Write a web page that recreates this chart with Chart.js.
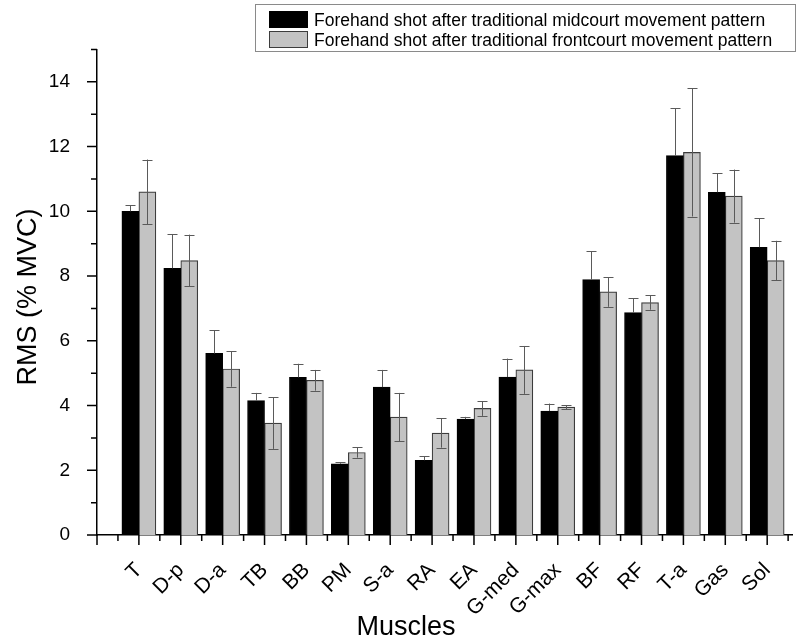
<!DOCTYPE html>
<html>
<head>
<meta charset="utf-8">
<script src="https://cdn.jsdelivr.net/npm/chart.js"></script>
<style>
  html, body { margin: 0; padding: 0; background: #fff; }
  #wrap { position: relative; width: 800px; height: 642px; }
  #legend {
    position: absolute; left: 255px; top: 4px; width: 541px; height: 48px;
    border: 1px solid #8a8a8a; box-sizing: border-box;
    font-family: "Liberation Sans", Arial, sans-serif; font-size: 17.5px; color: #000;
  }
  .item { position: absolute; left: 13px; height: 18px; line-height: 18px; white-space: nowrap; }
  .swatch { position: absolute; left: 0; top: 0; width: 39px; height: 17px; box-sizing: border-box; }
  .label { position: absolute; left: 45px; top: 0; }
</style>
</head>
<body>
<div id="wrap">
  <canvas id="chart" width="800" height="642"></canvas>
  <div id="legend"></div>
</div>
<script>
  const muscles = ["T", "D-p", "D-a", "TB", "BB", "PM", "S-a", "RA", "EA", "G-med", "G-max", "BF", "RF", "T-a", "Gas", "Sol"];
  const midcourt = [10.0, 8.24, 5.61, 4.15, 4.87, 2.2, 4.57, 2.31, 3.58, 4.88, 3.83, 7.89, 6.87, 11.72, 10.59, 8.89];
  const midcourtSD = [0.19, 1.06, 0.71, 0.24, 0.42, 0.04, 0.53, 0.13, 0.07, 0.57, 0.23, 0.88, 0.45, 1.47, 0.58, 0.89];
  const frontcourt = [10.6, 8.48, 5.13, 3.46, 4.78, 2.55, 3.64, 3.15, 3.91, 5.1, 3.95, 7.51, 7.18, 11.82, 10.47, 8.48];
  const frontcourtSD = [1.0, 0.8, 0.55, 0.8, 0.32, 0.16, 0.75, 0.45, 0.23, 0.74, 0.06, 0.46, 0.22, 1.98, 0.82, 0.61];
  const yTicks = [0, 2, 4, 6, 8, 10, 12, 14];

  const FONT = "'Liberation Sans', Arial, sans-serif";

  // outward tick marks, long on labelled values, short in between
  const tickMarks = {
    id: "tickMarks",
    afterDraw(chart) {
      const { ctx, scales: { x, y } } = chart;
      ctx.save();
      ctx.strokeStyle = "#000";
      ctx.lineWidth = 1.5;
      ctx.beginPath();
      for (let v = 0; v <= 15; v++) {
        const py = y.getPixelForValue(v);
        const len = v % 2 === 0 ? 10 : 6;
        ctx.moveTo(x.left, py);
        ctx.lineTo(x.left - len, py);
      }
      for (let v = 0; v <= 16.5; v += 0.5) {
        const px = x.getPixelForValue(v);
        const len = Number.isInteger(v) ? 10 : 6;
        ctx.moveTo(px, y.bottom);
        ctx.lineTo(px, y.bottom + len);
      }
      ctx.stroke();
      ctx.restore();
    },
  };

  const errorBars = {
    id: "errorBars",
    afterDatasetsDraw(chart) {
      const { ctx, scales: { y } } = chart;
      const sds = [midcourtSD, frontcourtSD];
      ctx.save();
      ctx.strokeStyle = "#5a5a5a";
      ctx.lineWidth = 1;
      chart.data.datasets.forEach((ds, i) => {
        chart.getDatasetMeta(i).data.forEach((bar, j) => {
          const val = ds.data[j].y;
          const top = y.getPixelForValue(val + sds[i][j]);
          const bot = y.getPixelForValue(val - sds[i][j]);
          const x = Math.round(bar.x) + 0.5;
          ctx.beginPath();
          ctx.moveTo(x, i === 0 ? bar.y : bot);
          ctx.lineTo(x, top);
          ctx.moveTo(x - 5, Math.round(top) + 0.5);
          ctx.lineTo(x + 5, Math.round(top) + 0.5);
          if (i === 1) {
            ctx.moveTo(x - 5, Math.round(bot) + 0.5);
            ctx.lineTo(x + 5, Math.round(bot) + 0.5);
          }
          ctx.stroke();
        });
      });
      ctx.restore();
    },
  };

  const axisTitles = {
    id: "axisTitles",
    afterDraw(chart) {
      const { ctx } = chart;
      ctx.save();
      ctx.fillStyle = "#000";
      ctx.font = "27px " + FONT;
      ctx.textAlign = "center";
      ctx.textBaseline = "alphabetic";
      ctx.fillText("Muscles", 406, 635);
      ctx.translate(36, 297);
      ctx.rotate(-Math.PI / 2);
      ctx.fillText("RMS (% MVC)", 0, 0);
      ctx.restore();
    },
  };

  const chart = new Chart(document.getElementById("chart"), {
    type: "bar",
    data: {
      datasets: [
        {
          label: "Forehand shot after traditional midcourt movement pattern",
          data: muscles.map((m, i) => ({ x: i + 1, y: midcourt[i] })),
          backgroundColor: "#000000",
          borderColor: "#000000",
          borderWidth: 1,
          barThickness: 17,
        },
        {
          label: "Forehand shot after traditional frontcourt movement pattern",
          data: muscles.map((m, i) => ({ x: i + 1, y: frontcourt[i] })),
          backgroundColor: "#c3c3c3",
          borderColor: "#3c3c3c",
          borderWidth: 1.2,
          barThickness: 17,
        },
      ],
    },
    options: {
      responsive: false,
      animation: false,
      layout: { padding: { top: 49.5, right: 0, left: 0, bottom: 0 } },
      plugins: {
        legend: { display: false },
        tooltip: { enabled: false },
      },
      scales: {
        x: {
          type: "linear",
          offset: false,
          min: 0,
          max: 16.6,
          grid: { display: false },
          border: { display: true, color: "#000", width: 1.5 },
          afterBuildTicks: (scale) => {
            scale.ticks = muscles.map((m, i) => ({ value: i + 1 }));
          },
          afterFit: (scale) => {
            scale.height = 107;
          },
          ticks: {
            autoSkip: false,
            minRotation: 45,
            maxRotation: 45,
            padding: 15,
            color: "#000",
            font: { family: FONT, size: 21 },
            callback: (v) => muscles[v - 1] || "",
          },
        },
        y: {
          min: 0,
          max: 15,
          grid: { display: false },
          border: { display: true, color: "#000", width: 1.5 },
          afterBuildTicks: (scale) => {
            scale.ticks = yTicks.map((v) => ({ value: v }));
          },
          afterFit: (scale) => {
            scale.width = 97;
          },
          ticks: {
            padding: 19,
            color: "#000",
            font: { family: FONT, size: 19 },
          },
        },
      },
    },
    plugins: [errorBars, tickMarks, axisTitles],
  });

  // legend box built from the datasets
  const legend = document.getElementById("legend");
  chart.data.datasets.forEach((ds, i) => {
    const item = document.createElement("div");
    item.className = "item";
    item.style.top = (i === 0 ? 6 : 26) + "px";
    const sw = document.createElement("div");
    sw.className = "swatch";
    sw.style.background = ds.backgroundColor;
    sw.style.border = "1px solid " + ds.borderColor;
    const lb = document.createElement("span");
    lb.className = "label";
    lb.textContent = ds.label;
    item.appendChild(sw);
    item.appendChild(lb);
    legend.appendChild(item);
  });
</script>
</body>
</html>
